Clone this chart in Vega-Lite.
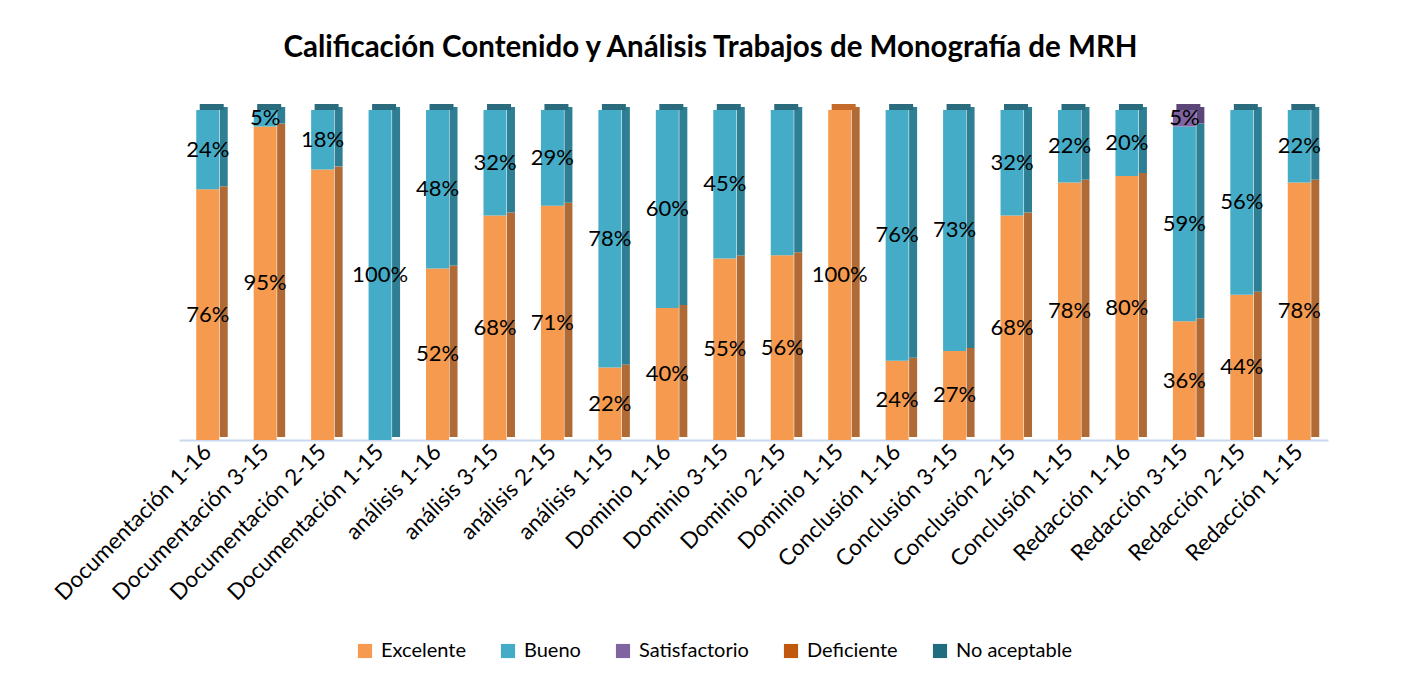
{
  "$schema": "https://vega.github.io/schema/vega-lite/v6.json",
  "autosize": "none",
  "width": 1149,
  "height": 330,
  "padding": {"left": 179, "top": 110, "right": 89, "bottom": 245},
  "background": "white",
  "config": {"view": {"stroke": null}, "font": "Lato"},
  "title": {"text": "Calificación Contenido y Análisis Trabajos de Monografía de MRH", "fontSize": 29.5, "font": "Lato", "fontWeight": "bold", "color": "#000000", "anchor": "middle", "frame": "group", "dx": -43, "offset": 41},
  "data": {"values": [
    {"trabajo": "Documentación 1-16", "nivel": "Excelente", "v": 76, "mostrar": true},
    {"trabajo": "Documentación 1-16", "nivel": "Bueno", "v": 24, "mostrar": true},
    {"trabajo": "Documentación 3-15", "nivel": "Excelente", "v": 95, "mostrar": true},
    {"trabajo": "Documentación 3-15", "nivel": "Bueno", "v": 5, "mostrar": true},
    {"trabajo": "Documentación 2-15", "nivel": "Excelente", "v": 82, "mostrar": false},
    {"trabajo": "Documentación 2-15", "nivel": "Bueno", "v": 18, "mostrar": true},
    {"trabajo": "Documentación 1-15", "nivel": "Bueno", "v": 100, "mostrar": true},
    {"trabajo": "análisis 1-16", "nivel": "Excelente", "v": 52, "mostrar": true},
    {"trabajo": "análisis 1-16", "nivel": "Bueno", "v": 48, "mostrar": true},
    {"trabajo": "análisis 3-15", "nivel": "Excelente", "v": 68, "mostrar": true},
    {"trabajo": "análisis 3-15", "nivel": "Bueno", "v": 32, "mostrar": true},
    {"trabajo": "análisis 2-15", "nivel": "Excelente", "v": 71, "mostrar": true},
    {"trabajo": "análisis 2-15", "nivel": "Bueno", "v": 29, "mostrar": true},
    {"trabajo": "análisis 1-15", "nivel": "Excelente", "v": 22, "mostrar": true},
    {"trabajo": "análisis 1-15", "nivel": "Bueno", "v": 78, "mostrar": true},
    {"trabajo": "Dominio 1-16", "nivel": "Excelente", "v": 40, "mostrar": true},
    {"trabajo": "Dominio 1-16", "nivel": "Bueno", "v": 60, "mostrar": true},
    {"trabajo": "Dominio 3-15", "nivel": "Excelente", "v": 55, "mostrar": true},
    {"trabajo": "Dominio 3-15", "nivel": "Bueno", "v": 45, "mostrar": true},
    {"trabajo": "Dominio 2-15", "nivel": "Excelente", "v": 56, "mostrar": true},
    {"trabajo": "Dominio 2-15", "nivel": "Bueno", "v": 44, "mostrar": false},
    {"trabajo": "Dominio 1-15", "nivel": "Excelente", "v": 100, "mostrar": true},
    {"trabajo": "Conclusión 1-16", "nivel": "Excelente", "v": 24, "mostrar": true},
    {"trabajo": "Conclusión 1-16", "nivel": "Bueno", "v": 76, "mostrar": true},
    {"trabajo": "Conclusión 3-15", "nivel": "Excelente", "v": 27, "mostrar": true},
    {"trabajo": "Conclusión 3-15", "nivel": "Bueno", "v": 73, "mostrar": true},
    {"trabajo": "Conclusión 2-15", "nivel": "Excelente", "v": 68, "mostrar": true},
    {"trabajo": "Conclusión 2-15", "nivel": "Bueno", "v": 32, "mostrar": true},
    {"trabajo": "Conclusión 1-15", "nivel": "Excelente", "v": 78, "mostrar": true},
    {"trabajo": "Conclusión 1-15", "nivel": "Bueno", "v": 22, "mostrar": true},
    {"trabajo": "Redacción 1-16", "nivel": "Excelente", "v": 80, "mostrar": true},
    {"trabajo": "Redacción 1-16", "nivel": "Bueno", "v": 20, "mostrar": true},
    {"trabajo": "Redacción 3-15", "nivel": "Excelente", "v": 36, "mostrar": true},
    {"trabajo": "Redacción 3-15", "nivel": "Bueno", "v": 59, "mostrar": true},
    {"trabajo": "Redacción 3-15", "nivel": "Satisfactorio", "v": 5, "mostrar": true},
    {"trabajo": "Redacción 2-15", "nivel": "Excelente", "v": 44, "mostrar": true},
    {"trabajo": "Redacción 2-15", "nivel": "Bueno", "v": 56, "mostrar": true},
    {"trabajo": "Redacción 1-15", "nivel": "Excelente", "v": 78, "mostrar": true},
    {"trabajo": "Redacción 1-15", "nivel": "Bueno", "v": 22, "mostrar": true}
  ]},
  "transform": [
    {"calculate": "indexof(['Excelente','Bueno','Satisfactorio','Deficiente','No aceptable'], datum.nivel)", "as": "k"},
    {"stack": "v", "groupby": ["trabajo"], "sort": [{"field": "k", "order": "ascending"}], "as": ["y0", "y1"]},
    {"calculate": "(datum.y0 + datum.y1) / 2", "as": "ymid"},
    {"calculate": "datum.v + '%'", "as": "etiqueta"}
  ],
  "encoding": {
    "x": {"field": "trabajo", "type": "nominal", "sort": null, "title": null,
      "scale": {"paddingInner": 0, "paddingOuter": 0},
      "axis": {"labelAngle": -45, "labelFontSize": 22.5, "labelFont": "Lato", "labelColor": "#000000", "labelLimit": 0, "ticks": false, "domainColor": "#C8D8EE", "domainWidth": 2, "labelPadding": 8, "labelAlign": "right", "labelBaseline": "middle"}}
  },
  "layer": [
    {
      "mark": {"type": "bar", "width": 8, "xOffset": 16, "yOffset": -3, "y2Offset": -3},
      "encoding": {
        "y": {"field": "y0", "type": "quantitative", "scale": {"domain": [0, 100]}, "axis": null},
        "y2": {"field": "y1"},
        "color": {"field": "nivel", "type": "nominal", "legend": null,
          "scale": {"domain": ["Excelente", "Bueno", "Satisfactorio"], "range": ["#B06A36", "#2F7F94", "#5B4677"]}}
      }
    },
    {
      "transform": [{"filter": "datum.y1 == 100"}],
      "mark": {"type": "tick", "size": 24, "thickness": 6, "xOffset": 4, "yOffset": -3, "opacity": 1},
      "encoding": {
        "y": {"field": "y1", "type": "quantitative", "scale": {"domain": [0, 100]}, "axis": null},
        "color": {"field": "nivel", "type": "nominal", "legend": null,
          "scale": {"domain": ["Excelente", "Bueno", "Satisfactorio"], "range": ["#C46A2A", "#2A6C7E", "#5B4677"]}}
      }
    },
    {
      "mark": {"type": "bar", "width": {"band": 0.4}},
      "encoding": {
        "y": {"field": "y0", "type": "quantitative", "scale": {"domain": [0, 100]}, "axis": null},
        "y2": {"field": "y1"},
        "color": {"field": "nivel", "type": "nominal", "title": null,
          "scale": {"domain": ["Excelente", "Bueno", "Satisfactorio", "Deficiente", "No aceptable"], "range": ["#F59A4E", "#45ACC7", "#8064A2", "#C0590E", "#1F6E80"]},
          "legend": {"orient": "none", "direction": "horizontal", "legendX": 176, "legendY": 531, "labelFontSize": 20, "labelFont": "Lato", "labelColor": "#000000", "symbolType": "square", "symbolSize": 200, "symbolStrokeWidth": 0, "columnPadding": 32, "labelOffset": 6}}
      }
    },
    {
      "transform": [{"filter": "datum.mostrar"}],
      "mark": {"type": "text", "fontSize": 22, "font": "Lato", "color": "#000000", "baseline": "middle", "align": "center"},
      "encoding": {
        "y": {"field": "ymid", "type": "quantitative", "scale": {"domain": [0, 100]}, "axis": null},
        "text": {"field": "etiqueta", "type": "nominal"}
      }
    }
  ],
  "resolve": {"scale": {"color": "independent"}}
}
